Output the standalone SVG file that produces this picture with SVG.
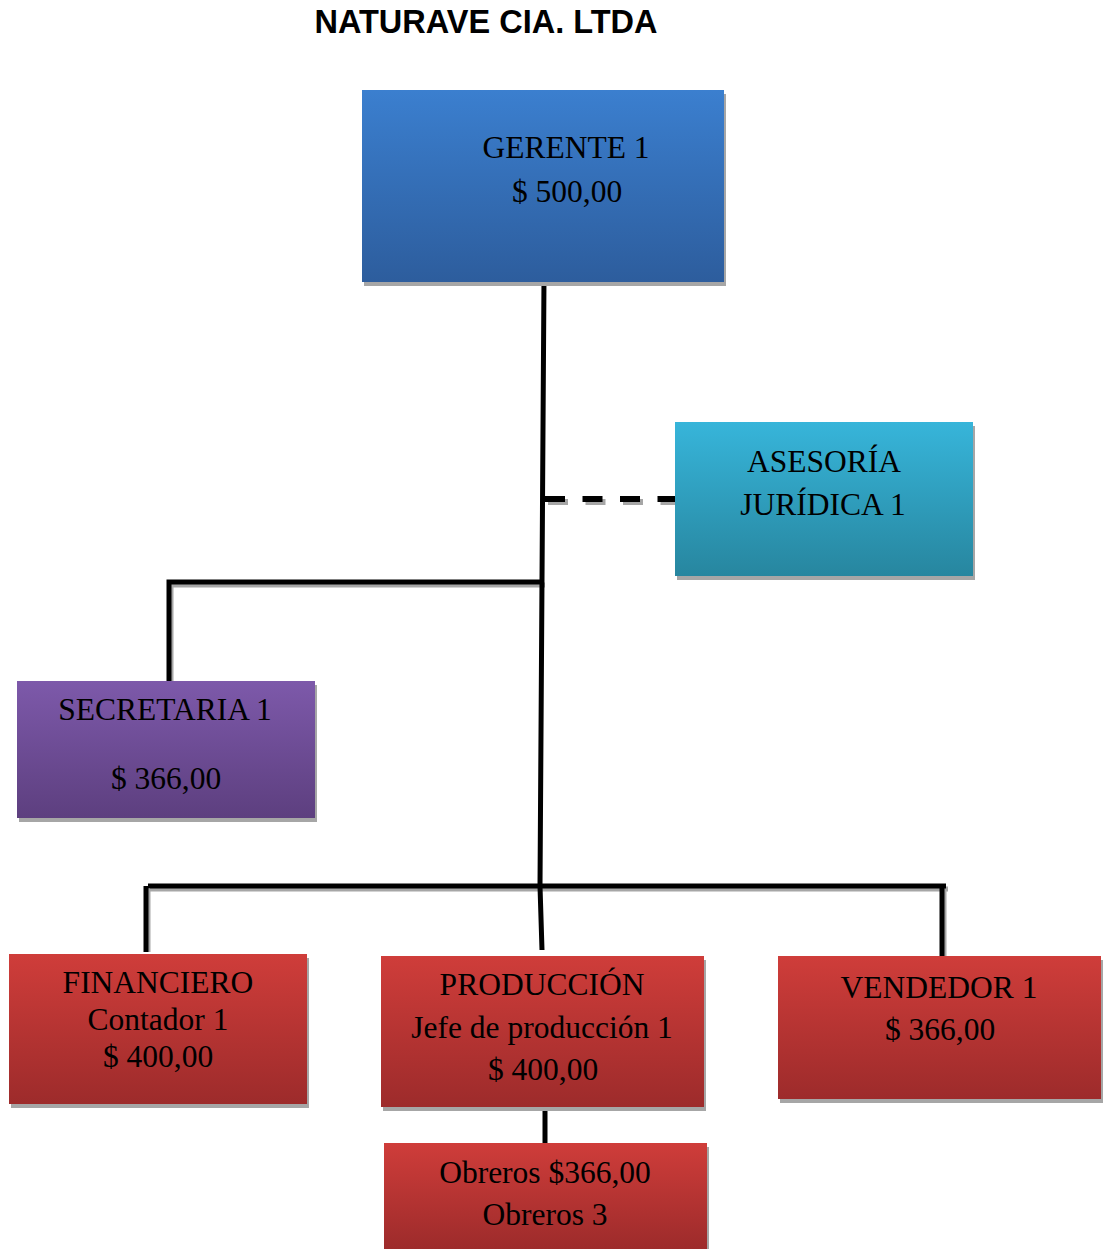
<svg xmlns="http://www.w3.org/2000/svg" width="1103" height="1249" viewBox="0 0 1103 1249">
<defs>
<linearGradient id="gBlue" x1="0" y1="0" x2="0" y2="1"><stop offset="0" stop-color="#3b7fcf"/><stop offset="1" stop-color="#2d5d9d"/></linearGradient>
<linearGradient id="gCyan" x1="0" y1="0" x2="0" y2="1"><stop offset="0" stop-color="#37b5da"/><stop offset="1" stop-color="#27869f"/></linearGradient>
<linearGradient id="gPurple" x1="0" y1="0" x2="0" y2="1"><stop offset="0" stop-color="#7d59aa"/><stop offset="1" stop-color="#5d3f7f"/></linearGradient>
<linearGradient id="gRed" x1="0" y1="0" x2="0" y2="1"><stop offset="0" stop-color="#cf3d3a"/><stop offset="1" stop-color="#9d2b2b"/></linearGradient>
</defs>
<style>
.sh{fill:#a6a6a6}
.t{font-family:"Liberation Serif","Times New Roman",serif;font-size:31.5px;fill:#000;text-anchor:middle}
.ln{stroke:#000;stroke-width:5;fill:none}
.lns{stroke:#a6a6a6;stroke-width:5;fill:none}
.title{font-family:"Liberation Sans",Arial,sans-serif;font-weight:bold;font-size:32.5px;fill:#000;text-anchor:middle}
</style>
<text class="title" x="486" y="33">NATURAVE CIA. LTDA</text>
<g id="connectors">
<g class="lns">
<path d="M171 685 V585 H545"/>
<path d="M150 889 H948"/>
<path d="M148 952 V889"/>
<path d="M944 956 V889"/>
<path d="M548 502 H680" stroke-width="6" stroke-dasharray="20 17.5"/>
</g>
<g class="ln">
<path d="M544 278 L542 580 L540 886 L542 950"/>
<path d="M169 682 V582 H543"/>
<path d="M148 886 H946"/>
<path d="M146 952 V886"/>
<path d="M942 956 V886"/>
<path d="M545 1110 V1143"/>
<path d="M545 499 H678" stroke-width="6" stroke-dasharray="20 17.5"/>
</g>
</g>
<g id="gerente">
<rect class="sh" x="364" y="94" width="362" height="192"/>
<rect x="362" y="90" width="362" height="192" fill="url(#gBlue)"/>
<text class="t" x="566" y="158">GERENTE 1</text>
<text class="t" x="567" y="202">$ 500,00</text>
</g>
<g id="asesoria">
<rect class="sh" x="677" y="426" width="298" height="154"/>
<rect x="675" y="422" width="298" height="154" fill="url(#gCyan)"/>
<text class="t" x="824" y="472">ASESORÍA</text>
<text class="t" x="823" y="515">JURÍDICA 1</text>
</g>
<g id="secretaria">
<rect class="sh" x="19" y="685" width="298" height="137"/>
<rect x="17" y="681" width="298" height="137" fill="url(#gPurple)"/>
<text class="t" x="165" y="720">SECRETARIA 1</text>
<text class="t" x="166" y="789">$ 366,00</text>
</g>
<g id="financiero">
<rect class="sh" x="11" y="958" width="298" height="150"/>
<rect x="9" y="954" width="298" height="150" fill="url(#gRed)"/>
<text class="t" x="158" y="993">FINANCIERO</text>
<text class="t" x="158" y="1030">Contador 1</text>
<text class="t" x="158" y="1067">$ 400,00</text>
</g>
<g id="produccion">
<rect class="sh" x="383" y="960" width="323" height="151"/>
<rect x="381" y="956" width="323" height="151" fill="url(#gRed)"/>
<text class="t" x="542" y="995">PRODUCCIÓN</text>
<text class="t" x="542" y="1038">Jefe de producción 1</text>
<text class="t" x="543" y="1080">$ 400,00</text>
</g>
<g id="vendedor">
<rect class="sh" x="780" y="960" width="323" height="143"/>
<rect x="778" y="956" width="323" height="143" fill="url(#gRed)"/>
<text class="t" x="939" y="998">VENDEDOR 1</text>
<text class="t" x="940" y="1040">$ 366,00</text>
</g>
<g id="obreros">
<rect class="sh" x="386" y="1147" width="323" height="106"/>
<rect x="384" y="1143" width="323" height="106" fill="url(#gRed)"/>
<text class="t" x="545" y="1183">Obreros $366,00</text>
<text class="t" x="545" y="1225">Obreros 3</text>
</g>
</svg>
